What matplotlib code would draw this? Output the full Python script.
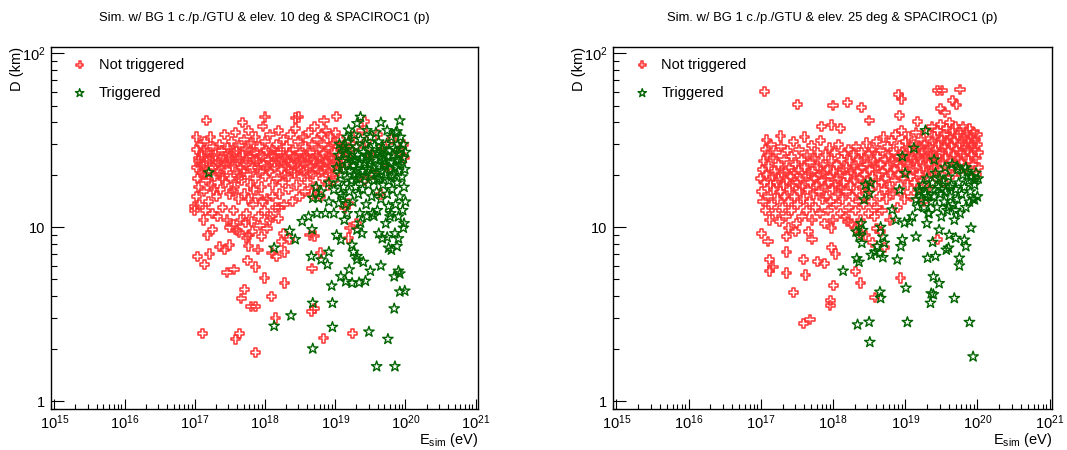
import numpy as np
import matplotlib.pyplot as plt
from matplotlib.path import Path
from matplotlib.ticker import FixedLocator, LogLocator, FuncFormatter, NullFormatter

plt.rcParams['font.family'] = ['Liberation Sans', 'DejaVu Sans']
plt.rcParams['mathtext.fontset'] = 'custom'
plt.rcParams['mathtext.rm'] = 'Liberation Sans'
plt.rcParams['mathtext.it'] = 'Liberation Sans:italic'
plt.rcParams['mathtext.default'] = 'regular'

titles = ['Sim. w/ BG 1 c./p./GTU & elev. 10 deg & SPACIROC1 (p)',
          'Sim. w/ BG 1 c./p./GTU & elev. 25 deg & SPACIROC1 (p)']
legend_labels = ['Not triggered', 'Triggered']
x_decades = [15, 16, 17, 18, 19, 20, 21]
y_tick_labels = {1: '1', 10: '10', 100: '$10^{2}$'}

# elevation 10 deg, not triggered: log10(E/eV) and D (km)
nt10_exp = [
    17.03, 17.17, 17.68, 18.00, 18.43, 18.48, 18.84, 19.02, 19.42, 17.00,
    17.00, 17.04, 17.14, 17.21, 17.11, 17.18, 17.12, 17.25, 17.35, 17.42,
    17.49, 17.46, 17.56, 17.50, 17.63, 17.74, 17.76, 17.75, 17.86, 17.71,
    17.66, 17.80, 17.86, 17.58, 17.64, 17.86, 17.99, 18.09, 18.15, 18.28,
    17.76, 17.90, 17.95, 18.10, 18.16, 18.24, 18.28, 18.35, 18.26, 18.64,
    18.71, 18.67, 18.66, 18.70, 18.83, 18.79, 19.25, 19.19, 19.21, 19.30,
    19.14, 19.19, 17.55, 17.72, 17.93, 18.06, 18.19, 17.60, 17.82, 18.03,
    17.02, 17.03, 17.04, 17.05, 17.02, 17.06, 17.08, 17.07, 17.10, 17.10,
    17.12, 17.13, 17.14, 17.15, 17.16, 17.18, 17.19, 17.20, 17.21, 17.22,
    17.24, 17.25, 17.26, 17.27, 17.28, 17.30, 17.31, 17.32, 17.33, 17.35,
    17.36, 17.37, 17.38, 17.40, 17.41, 17.42, 17.44, 17.45, 17.46, 17.47,
    17.49, 17.50, 17.51, 17.52, 17.54, 17.55, 17.56, 17.57, 17.58, 17.60,
    17.61, 17.62, 17.63, 17.65, 17.66, 17.67, 17.68, 17.70, 17.71, 17.72,
    17.73, 17.74, 17.75, 17.76, 17.78, 17.79, 17.80, 17.81, 17.82, 17.83,
    17.85, 17.86, 17.87, 17.88, 17.90, 17.91, 17.92, 17.93, 17.94, 17.95,
    17.97, 17.98, 17.99, 18.00, 18.01, 18.02, 18.03, 18.05, 18.06, 18.07,
    18.08, 18.10, 18.11, 18.12, 18.13, 18.15, 18.16, 18.17, 18.19, 18.20,
    18.21, 18.22, 18.24, 18.25, 18.26, 18.27, 18.29, 18.30, 18.31, 18.33,
    18.34, 18.35, 18.36, 18.38, 18.39, 18.40, 18.42, 18.43, 18.44, 18.45,
    18.47, 18.48, 18.49, 18.50, 18.52, 18.53, 18.54, 18.55, 18.57, 18.58,
    18.59, 18.60, 18.62, 18.63, 18.64, 18.66, 18.67, 18.68, 18.69, 18.70,
    18.72, 18.73, 18.74, 18.75, 18.77, 18.78, 18.79, 18.80, 18.82, 18.83,
    18.84, 18.85, 18.87, 18.88, 18.89, 18.90, 18.92, 18.93, 18.94, 18.95,
    18.97, 18.98, 18.99, 19.00, 19.02, 19.03, 19.04, 19.06, 19.07, 19.08,
    19.10, 19.12, 19.14, 19.16, 19.20, 19.25, 19.30, 19.38, 19.45, 19.52,
    19.60, 19.70, 19.80, 19.90, 19.97, 19.99, 19.55, 19.75, 19.42, 19.65,
    17.05, 17.09, 17.13, 17.17, 17.23, 17.29, 17.34, 17.39, 17.43, 17.48,
    17.53, 17.59, 17.64, 17.69, 17.74, 17.79, 17.84, 17.89, 17.96, 18.04,
    18.09, 18.14, 18.18, 18.23, 18.28, 18.32, 18.37, 18.41, 18.46, 18.51,
    18.56, 18.61, 18.65, 18.71, 18.76, 18.81, 18.86, 18.91, 18.96, 19.01,
    17.15, 17.27, 17.40, 17.55, 17.62, 17.77, 17.84, 17.96, 18.11, 18.20,
]
nt10_d = [
    33, 41, 40, 43, 42.4, 43, 41, 43.5, 40.6, 13.2,
    12.5, 6.8, 6.07, 7.0, 2.45, 9.0, 11, 9.7, 7.7, 7.4,
    7.9, 5.5, 5.7, 10, 9.35, 8.65, 9.0, 6.4, 5.9, 4.4,
    3.9, 3.5, 3.5, 2.27, 2.45, 1.9, 5.1, 4.0, 3.0, 4.77,
    7.8, 7.4, 8.8, 7.1, 6.8, 8.3, 7.2, 8.45, 9.2, 9.0,
    8.9, 5.8, 3.27, 3.4, 2.3, 7.1, 2.45, 8.65, 9.9, 10.5,
    12.9, 13.7, 10.3, 10.6, 10.2, 10.9, 11.2, 9.6, 9.4, 9.8,
    28, 22, 19, 17, 15, 25, 30, 13.5, 20.5, 26,
    23, 16, 31, 12.5, 18.5, 27, 21, 14, 24.5, 33,
    17.5, 12, 29, 22, 19.5, 26, 15, 11.5, 23.5, 30,
    20, 16.5, 27.5, 13, 24, 34, 18, 21.5, 11, 28.5,
    15.5, 25, 19, 31, 22.5, 12.5, 27, 17, 35, 20.5,
    24, 14.5, 29.5, 11, 22, 18.5, 26, 32, 15.5, 23,
    28, 12, 20, 36, 25.5, 17.5, 30.5, 10.8, 22, 13.5,
    27, 19, 33, 24, 15, 11.5, 29, 21, 26, 17,
    38, 23, 12.5, 31, 19.5, 27.5, 14.5, 24.5, 21, 34,
    11.5, 28, 17.5, 25.5, 22, 13, 30, 19, 36, 24,
    15.5, 27, 21.5, 18, 32, 13.5, 25, 22.5, 29, 16.5,
    19.5, 26.5, 34, 23, 14, 28, 20.5, 37, 25, 17.5,
    31, 22, 15, 27, 19.5, 24, 33, 21, 16, 29,
    25.5, 18, 35, 22.5, 27, 15.5, 30, 20, 24.5, 38,
    17, 26, 32, 21.5, 28, 23, 15, 34, 19, 26.5,
    30, 22, 36, 24, 17.5, 28.5, 20.5, 33, 25, 22.5,
    30.5, 18.5, 27, 35, 24, 21, 29, 26, 32, 22.5,
    28, 25, 30, 23, 27, 33, 29, 36, 31, 26,
    34, 29, 32, 27, 30, 25, 20, 22, 18.5, 15.5,
    24, 22.5, 27.5, 24, 26, 23, 21, 25.5, 23, 26.5,
    24, 27.5, 25, 21, 24.5, 27.5, 24.5, 22, 25.5, 22.5,
    26, 23.5, 27, 24.5, 20, 24, 21, 25.5, 23.5, 21.5,
    26, 24, 20.5, 23.5, 25, 21, 23.5, 26, 20, 23,
    20, 16.5, 19, 16, 19, 14.5, 16.5, 14, 15, 13,
]

# elevation 10 deg, triggered
tr10_exp = [
    17.20, 18.13, 18.13, 18.37, 18.35, 18.43, 18.53, 18.67, 18.66, 18.68,
    18.68, 18.80, 18.91, 18.89, 18.95, 18.96, 18.96, 19.48, 19.59, 19.85,
    19.75, 19.84, 19.92, 19.99, 19.65, 19.50, 19.43, 19.34, 19.24, 19.15,
    19.08, 19.20, 19.31, 19.40, 19.26, 19.31, 19.24, 19.38, 19.31, 19.36,
    19.45, 19.55, 19.62, 19.67, 19.74, 19.76, 19.80, 19.88, 19.90, 19.97,
    19.85, 19.90, 19.84, 19.92, 19.78, 19.76, 19.02, 19.08, 19.13, 19.17,
    19.05, 19.11, 18.98, 18.91, 18.80, 18.73, 18.68, 18.76, 18.86, 18.74,
    18.62, 18.91, 18.98, 19.53, 19.36, 19.31, 19.19, 19.17, 19.65, 19.92,
    19.88, 19.74,
    19.02, 19.04, 19.05, 19.07, 19.08, 19.10, 19.11, 19.12, 19.13, 19.15,
    19.16, 19.17, 19.18, 19.19, 19.20, 19.21, 19.22, 19.23, 19.24, 19.25,
    19.26, 19.27, 19.28, 19.29, 19.30, 19.31, 19.32, 19.33, 19.34, 19.35,
    19.36, 19.37, 19.38, 19.39, 19.40, 19.41, 19.42, 19.43, 19.44, 19.45,
    19.46, 19.47, 19.48, 19.49, 19.50, 19.51, 19.52, 19.53, 19.54, 19.55,
    19.56, 19.57, 19.58, 19.59, 19.60, 19.61, 19.62, 19.63, 19.64, 19.65,
    19.66, 19.67, 19.68, 19.69, 19.70, 19.71, 19.72, 19.73, 19.74, 19.75,
    19.76, 19.77, 19.78, 19.79, 19.80, 19.81, 19.82, 19.83, 19.84, 19.85,
    19.86, 19.87, 19.88, 19.89, 19.90, 19.91, 19.92, 19.93, 19.94, 19.95,
    19.96, 19.97, 19.98, 19.99, 20.00, 20.00, 19.97, 19.93, 19.86, 19.58,
    19.45, 19.27, 19.14, 19.06, 19.35, 19.60, 19.79, 19.98, 19.90, 19.72,
    19.30, 19.40, 19.50, 19.60, 19.70, 19.80, 19.90, 19.25, 19.45, 19.65,
]
tr10_d = [
    20.6, 7.6, 2.7, 3.1, 9.5, 8.5, 10.8, 9.7, 6.8, 3.66,
    2.0, 6.5, 7.2, 6.1, 4.6, 3.66, 2.66, 2.5, 1.58, 1.58,
    2.27, 3.4, 4.25, 4.3, 6.0, 5.6, 4.9, 4.8, 4.77, 4.87,
    5.2, 5.7, 6.5, 6.3, 7.2, 6.8, 7.9, 9.2, 9.65, 10.6,
    11.5, 11.6, 9.2, 8.6, 8.75, 7.6, 7.4, 7.75, 8.6, 9.9,
    9.2, 5.6, 5.2, 5.4, 11.5, 13.2, 9.0, 8.45, 11, 12,
    13.7, 15, 16.4, 18, 16, 17, 14.7, 14.7, 12.0, 12,
    11.5, 14.0, 12, 12.0, 43, 39.5, 36.3, 33, 40, 41,
    35.5, 36,
    22, 18, 26, 20, 15.5, 24, 29, 17, 21.5, 13.5,
    26.5, 19, 23, 31, 16, 21, 25, 18.5, 27.5, 14,
    22.5, 20, 24.5, 17, 29, 21.5, 26, 15.5, 23, 19,
    32, 25, 21, 16.5, 27, 23.5, 19.5, 30, 13.5, 25.5,
    21.5, 17.5, 28, 24, 33, 20, 15, 26.5, 22, 18.5,
    29.5, 24.5, 20.5, 16, 27, 22.5, 31, 19, 25, 14.5,
    21, 28, 17.5, 24, 26, 20, 22.5, 30, 15.5, 25.5,
    18.5, 27.5, 21.5, 23.5, 33, 16.5, 26, 20, 28.5, 22,
    13.5, 24.5, 18, 30, 21, 26.5, 15, 23, 28, 19.5,
    12.5, 25, 17, 21.5, 27, 14, 30, 33, 35, 35,
    36, 34, 28, 30, 12, 12.5, 12, 10.5, 11.5, 10.5,
    19, 21, 23, 19, 23, 19.5, 24, 24, 26, 27,
]

# elevation 25 deg, not triggered
nt25_exp = [
    17.05, 17.51, 18.00, 18.20, 18.39, 18.50, 18.91, 18.95, 18.92, 19.45,
    19.51, 19.76, 19.49, 19.55, 19.66, 19.71, 19.17, 17.84, 17.98, 18.10,
    17.27, 17.08, 17.01, 17.10, 17.12, 17.12, 17.17, 17.36, 17.36, 17.45,
    17.36, 17.38, 17.48, 17.59, 17.62, 17.59, 17.68, 17.66, 17.71, 17.78,
    17.88, 17.98, 18.03, 18.01, 17.97, 17.96, 17.98, 18.31, 18.38, 18.58,
    18.71, 18.94, 19.45, 18.66, 18.31, 18.38, 18.20, 18.45, 18.55, 18.60,
    17.00, 17.01, 17.02, 17.03, 17.04, 17.05, 17.06, 17.07, 17.08, 17.09,
    17.10, 17.11, 17.12, 17.13, 17.14, 17.15, 17.16, 17.17, 17.18, 17.19,
    17.20, 17.21, 17.22, 17.23, 17.24, 17.25, 17.26, 17.27, 17.28, 17.29,
    17.30, 17.31, 17.32, 17.33, 17.34, 17.35, 17.36, 17.37, 17.38, 17.39,
    17.40, 17.41, 17.42, 17.43, 17.44, 17.45, 17.46, 17.47, 17.48, 17.49,
    17.50, 17.51, 17.52, 17.53, 17.54, 17.55, 17.56, 17.57, 17.58, 17.59,
    17.60, 17.61, 17.62, 17.63, 17.64, 17.65, 17.66, 17.67, 17.68, 17.69,
    17.70, 17.71, 17.72, 17.73, 17.74, 17.75, 17.76, 17.77, 17.78, 17.79,
    17.80, 17.81, 17.82, 17.83, 17.84, 17.85, 17.86, 17.87, 17.88, 17.89,
    17.90, 17.91, 17.92, 17.93, 17.94, 17.95, 17.96, 17.97, 17.98, 17.99,
    18.00, 18.01, 18.02, 18.03, 18.04, 18.05, 18.06, 18.07, 18.08, 18.09,
    18.10, 18.11, 18.12, 18.13, 18.14, 18.15, 18.16, 18.17, 18.18, 18.19,
    18.20, 18.21, 18.22, 18.23, 18.24, 18.25, 18.26, 18.27, 18.28, 18.29,
    18.30, 18.31, 18.32, 18.33, 18.34, 18.35, 18.36, 18.37, 18.38, 18.39,
    18.40, 18.41, 18.42, 18.43, 18.44, 18.45, 18.46, 18.47, 18.48, 18.49,
    18.50, 18.51, 18.52, 18.53, 18.54, 18.55, 18.56, 18.57, 18.58, 18.59,
    18.60, 18.61, 18.62, 18.63, 18.64, 18.65, 18.66, 18.67, 18.68, 18.69,
    18.70, 18.71, 18.72, 18.73, 18.74, 18.75, 18.76, 18.77, 18.78, 18.79,
    18.80, 18.81, 18.82, 18.83, 18.84, 18.85, 18.86, 18.87, 18.88, 18.89,
    18.90, 18.91, 18.92, 18.93, 18.94, 18.95, 18.96, 18.97, 18.98, 18.99,
    19.00, 19.01, 19.02, 19.03, 19.04, 19.05, 19.06, 19.07, 19.08, 19.09,
    19.10, 19.11, 19.12, 19.13, 19.14, 19.15, 19.16, 19.17, 19.18, 19.19,
    19.20, 19.21, 19.22, 19.23, 19.24, 19.25, 19.26, 19.27, 19.28, 19.29,
    19.30, 19.31, 19.32, 19.33, 19.34, 19.35, 19.36, 19.37, 19.38, 19.39,
    19.40, 19.41, 19.42, 19.43, 19.44, 19.45, 19.46, 19.47, 19.48, 19.49,
    19.50, 19.51, 19.52, 19.53, 19.54, 19.55, 19.56, 19.57, 19.58, 19.59,
    19.60, 19.61, 19.62, 19.63, 19.64, 19.65, 19.66, 19.67, 19.68, 19.69,
    19.70, 19.71, 19.72, 19.73, 19.74, 19.75, 19.76, 19.77, 19.78, 19.79,
    19.80, 19.81, 19.82, 19.83, 19.84, 19.85, 19.86, 19.87, 19.88, 19.89,
    19.90, 19.91, 19.92, 19.93, 19.94, 19.95, 19.96, 19.97, 19.98, 20.00,
    20.01, 20.02, 20.00, 19.99,
]
nt25_d = [
    60, 51, 50, 52, 49, 41, 58, 54.6, 43.7, 61,
    61, 62, 48, 45.7, 53.3, 50.5, 40.4, 37.8, 38.7, 37,
    33.4, 31.7, 9.2, 8.3, 6.5, 5.6, 5.9, 7.2, 5.45, 4.2,
    8.8, 9.9, 9.4, 6.5, 5.3, 2.8, 2.94, 9.4, 8.5, 6.35,
    6.2, 7.6, 7.0, 4.6, 3.8, 3.55, 9.9, 5.55, 4.77, 3.95,
    7.6, 5.1, 8.45, 9.4, 9.9, 9.2, 10.8, 9.0, 8.2, 9.8,
    19, 16, 21.5, 14, 24, 18, 28, 12.5, 20, 26,
    15, 22.5, 11, 17.5, 30, 13.5, 19.5, 25, 16.5, 21,
    12, 27, 18, 14.5, 23, 19, 10.8, 16, 29, 20.5,
    13, 17.5, 24.5, 15, 21, 11.5, 18.5, 27.5, 14, 22,
    16.5, 19.5, 12.5, 25.5, 17.5, 31, 20.5, 15, 23, 10.5,
    18, 13.5, 21.5, 28, 16, 19, 24.5, 11.5, 17, 14.5,
    22, 33, 19.5, 12.5, 26, 16.5, 20.5, 14, 23.5, 18,
    29.5, 11, 21, 15.5, 19, 25, 13, 17.5, 22.5, 27,
    16, 20, 12, 31.5, 18.5, 14.5, 23, 20.5, 10.5, 17,
    26, 15, 21.5, 12.5, 18, 28.5, 19.5, 14, 24, 16.5,
    11, 21, 27, 17.5, 13.5, 23, 19, 15.5, 30, 20.5,
    12, 17, 24.5, 14.5, 21.5, 18, 26.5, 11.5, 16, 22,
    19.5, 28, 13, 24, 17.5, 20.5, 10.5, 15, 26, 22.5,
    18.5, 12.5, 29, 16, 21, 24.5, 14, 19, 11, 27,
    22, 17, 13.5, 25, 20, 15.5, 30.5, 23, 18.5, 12,
    26.5, 21.5, 16.5, 14, 28, 19.5, 24, 11.5, 22.5, 17.5,
    31, 13, 25.5, 20, 15, 27.5, 23, 18, 12.5, 21,
    33, 16.5, 24.5, 19, 14.5, 29, 22, 26, 17, 11,
    20.5, 31.5, 24, 15.5, 27, 21.5, 18.5, 34, 23.5, 13,
    25.5, 20, 29.5, 16, 22.5, 36, 27, 19, 24, 14.5,
    31, 21, 26.5, 17.5, 23.5, 33, 28, 19.5, 15, 25,
    21.5, 30, 24, 18, 27.5, 35, 22, 16.5, 26, 29,
    20, 24.5, 32, 18.5, 27, 22.5, 14, 30, 25, 20.5,
    35, 27.5, 23, 17, 29, 25.5, 21, 38, 31, 26,
    22, 33, 28, 19, 24, 36, 30, 26.5, 21.5, 39,
    32, 27, 23.5, 18, 34, 29, 25, 37, 31, 21,
    27.5, 40, 33, 24, 29.5, 20, 36, 26, 31.5, 23,
    38, 28, 33.5, 25, 21, 30, 35, 27, 23.5, 31,
    38, 26, 33, 29, 22, 35, 27.5, 31, 24, 37,
    29, 33, 26, 30, 23, 35, 28, 32, 25, 30,
    27, 22, 34, 20,
]

# elevation 25 deg, triggered
tr25_exp = [
    19.28, 19.12, 18.96, 19.40, 19.00, 19.72, 19.84, 19.91, 19.96, 19.96,
    19.89, 18.52, 18.45, 18.50, 18.43, 18.92, 18.82, 18.87, 18.99, 19.06,
    19.10, 19.17, 19.15, 19.19, 19.31, 19.33, 19.30, 19.15, 18.96, 18.94,
    18.89, 19.01, 19.03, 18.66, 18.69, 18.71, 18.61, 18.58, 18.53, 18.65,
    18.69, 18.41, 18.36, 18.40, 18.33, 18.36, 18.32, 18.39, 18.14, 18.34,
    18.50, 18.51, 18.65, 18.66, 19.31, 19.42, 19.39, 19.47, 19.36, 19.39,
    19.35, 19.68, 19.75, 19.75, 19.89, 19.94, 19.91, 19.82, 19.84, 19.60,
    19.57, 19.47, 19.38, 19.61, 19.70,
    19.20, 19.22, 19.24, 19.26, 19.28, 19.30, 19.32, 19.34, 19.36, 19.38,
    19.40, 19.42, 19.44, 19.46, 19.48, 19.50, 19.52, 19.54, 19.56, 19.58,
    19.60, 19.62, 19.64, 19.66, 19.68, 19.70, 19.72, 19.74, 19.76, 19.78,
    19.80, 19.82, 19.84, 19.86, 19.88, 19.90, 19.92, 19.94, 19.96, 19.98,
    20.00, 20.01, 19.55, 19.65, 19.73, 19.48, 19.60, 19.70, 19.50, 19.62,
]
tr25_d = [
    36, 28.5, 25.5, 24.4, 20.4, 22.3, 22, 19.5, 18.6, 14.4,
    14.0, 18.0, 17.5, 15.7, 14.4, 16.4, 12.6, 11, 10.6, 10.8,
    11.5, 13.1, 14.4, 16.4, 15, 12.0, 10.5, 8.8, 8.5, 7.75,
    6.5, 4.47, 2.84, 10, 8.8, 8.1, 7.75, 7.2, 6.9, 7.1,
    6.7, 9.6, 8.8, 8.1, 6.6, 6.3, 9.4, 10.5, 5.6, 2.75,
    2.85, 2.18, 4.24, 3.9, 6.65, 6.8, 5.2, 4.75, 4.15, 4.1,
    3.66, 3.9, 6.65, 6.0, 2.84, 1.8, 9.9, 8.45, 7.75, 7.6,
    7.4, 9.65, 8.2, 9.0, 8.65,
    16, 14.5, 17.5, 13, 15.5, 19, 12, 16.5, 14, 18,
    15, 20.5, 13, 17, 15.5, 11.5, 18.5, 14, 16, 12.5,
    19.5, 15, 17.5, 13.5, 11, 16.5, 14.5, 18, 12, 15.5,
    20, 17, 13, 21, 18.5, 16, 19.5, 14.5, 17.5, 20.5,
    15, 19, 22, 23, 21.5, 19, 13, 12.5, 16.5, 17,
]

red = '#ff3333'
green = '#006400'
cross = Path([(-0.3, 1), (0.3, 1), (0.3, 0.3), (1, 0.3), (1, -0.3), (0.3, -0.3),
              (0.3, -1), (-0.3, -1), (-0.3, -0.3), (-1, -0.3), (-1, 0.3), (-0.3, 0.3),
              (-0.3, 1)], closed=True)


def y_fmt(v, pos):
    return y_tick_labels.get(int(round(v)), '')


def draw_panel(ax, nt_exp, nt_d, tr_exp, tr_d):
    ax.scatter(10 ** np.array(nt_exp), nt_d, marker=cross, s=44, facecolors='none',
               edgecolors=red, linewidths=1.1, label=legend_labels[0])
    ax.scatter(10 ** np.array(tr_exp), tr_d, marker='*', s=62, facecolors='none',
               edgecolors=green, linewidths=1.0, label=legend_labels[1])
    ax.set_xscale('log')
    ax.set_yscale('log')
    ax.set_xlim(10 ** 14.953, 10 ** 21.033)
    ax.set_ylim(10 ** -0.046, 10 ** 2.038)
    ax.xaxis.set_major_locator(FixedLocator([10.0 ** k for k in x_decades]))
    ax.xaxis.set_minor_locator(LogLocator(base=10, subs=np.arange(2, 10), numticks=20))
    ax.xaxis.set_minor_formatter(NullFormatter())
    ax.yaxis.set_major_locator(FixedLocator(list(y_tick_labels.keys())))
    ax.yaxis.set_minor_locator(LogLocator(base=10, subs=np.arange(2, 10), numticks=10))
    ax.yaxis.set_major_formatter(FuncFormatter(y_fmt))
    ax.yaxis.set_minor_formatter(NullFormatter())
    ax.tick_params(which='both', direction='in', top=False, right=False,
                   width=0.8, labelsize=10.5)
    ax.tick_params(axis='x', which='major', length=7, pad=3.5)
    ax.tick_params(axis='x', which='minor', length=3.5)
    ax.tick_params(axis='y', which='major', length=9, pad=4)
    ax.tick_params(axis='y', which='minor', length=4.5)
    for sp in ax.spines.values():
        sp.set_linewidth(1.0)
    ax.legend(loc='upper left', bbox_to_anchor=(0.05, 0.97), frameon=False,
              fontsize=10.5, borderpad=0, borderaxespad=0, handlelength=1.0,
              handletextpad=0.8, labelspacing=0.98, scatterpoints=1, markerscale=0.8)


fig = plt.figure(figsize=(10.67, 4.5), dpi=100)
W, H = 1067.0, 450.0
boxes = [(51, 478), (613, 1052)]
data = [(nt10_exp, nt10_d, tr10_exp, tr10_d), (nt25_exp, nt25_d, tr25_exp, tr25_d)]
for (x0, x1), title, series in zip(boxes, titles, data):
    ax = fig.add_axes([x0 / W, 41 / H, (x1 - x0) / W, 362.3 / H])
    draw_panel(ax, *series)
    fig.text((x0 + x1) / 2 / W, 1 - 21 / H, title, ha='center', va='baseline', fontsize=9.4)
    fig.text((x0 - 34) / W, 1 - 46.7 / H, 'D (km)', rotation=90, ha='center', va='top',
             fontsize=10.5)
    fig.text(x1 / W, 1 - 444 / H, r'E$_{\mathrm{sim}}$ (eV)', ha='right', va='baseline',
             fontsize=10.5)

fig.savefig('out.png', dpi=100)
